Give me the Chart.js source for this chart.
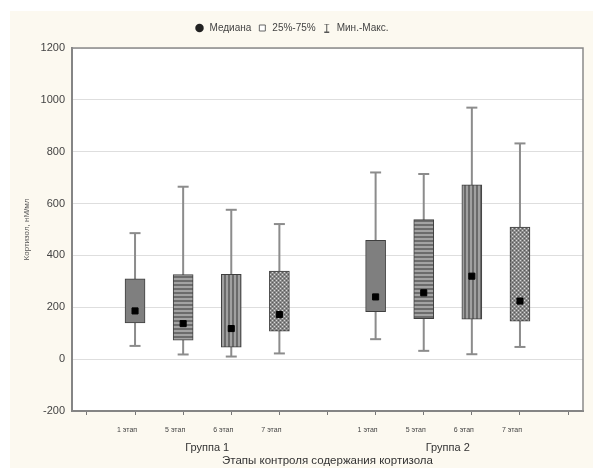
<!DOCTYPE html>
<html>
<head>
<meta charset="utf-8">
<script src="https://cdn.jsdelivr.net/npm/chart.js@4.4.1/dist/chart.umd.min.js"></script>
<style>
html, body { margin: 0; padding: 0; background: #fff; }
#wrap { position: relative; width: 593px; height: 468px; overflow: hidden; }
#bg { position: absolute; left: 10px; top: 11px; right: 0; bottom: 0; background: #fcf9f0; }
#chart { position: absolute; left: 0; top: 0; }
</style>
</head>
<body>
<div id="wrap">
  <div id="bg"></div>
  <canvas id="chart" width="593" height="468"></canvas>
</div>
<script>
// положения на оси X: 0..10, пустые места — разделители групп
const stageLabels = ['', '1 этап', '5 этап', '6 этап', '7 этап', '', '1 этап', '5 этап', '6 этап', '7 этап', ''];
const boxPositions = [1, 2, 3, 4, 6, 7, 8, 9];
const minValues    = [51, 18, 10, 22, 77, 32, 19, 47];
const q1Values     = [140, 73, 46, 108, 183, 156, 154, 146];
const medianValues = [186, 137, 118, 172, 240, 256, 320, 224];
const q3Values     = [310, 326, 327, 340, 458, 538, 672, 509];
const maxValues    = [486, 665, 576, 521, 720, 714, 970, 832];
const groupLabels = ['Группа 1', 'Группа 2'];
const groupPositions = [2.5, 7.5];
const fillKinds = ['solid', 'hstripe', 'vstripe', 'dots', 'solid', 'hstripe', 'vstripe', 'dots'];

const FONT = '"Liberation Sans", Arial, sans-serif';

function makePattern(kind) {
    if (kind === 'solid') return '#7f7f7f';
    const c = document.createElement('canvas');
    c.width = 4; c.height = 4;
    const g = c.getContext('2d');
    if (kind === 'hstripe') {
        g.fillStyle = '#a3a3a3'; g.fillRect(0, 0, 4, 4);
        g.fillStyle = '#6c6c6c'; g.fillRect(0, 0, 4, 2);
    } else if (kind === 'vstripe') {
        g.fillStyle = '#a0a0a0'; g.fillRect(0, 0, 4, 4);
        g.fillStyle = '#6a6a6a'; g.fillRect(0, 0, 2, 4);
    } else {
        g.fillStyle = '#8a8a8a'; g.fillRect(0, 0, 4, 4);
        g.fillStyle = '#d8d8d8'; g.fillRect(0, 0, 1, 1); g.fillRect(2, 2, 1, 1);
        g.fillStyle = '#5a5a5a'; g.fillRect(2, 0, 1, 1); g.fillRect(0, 2, 1, 1);
    }
    return g.createPattern(c, 'repeat');
}

function whiskerIcon() {
    const c = document.createElement('canvas');
    c.width = 7; c.height = 9;
    const g = c.getContext('2d');
    g.strokeStyle = '#555';
    g.lineWidth = 1;
    g.beginPath();
    g.moveTo(1, 0.5); g.lineTo(6, 0.5);
    g.moveTo(3.5, 0.5); g.lineTo(3.5, 8.5);
    g.moveTo(1, 8.5); g.lineTo(6, 8.5);
    g.stroke();
    return c;
}

const whiskerData = [];
boxPositions.forEach((x, i) => {
    whiskerData.push({ x: x, y: minValues[i] }, { x: x, y: maxValues[i] }, { x: x, y: null });
});
const capData = boxPositions.flatMap((x, i) => [{ x: x, y: minValues[i] }, { x: x, y: maxValues[i] }]);
const boxData = boxPositions.map((x, i) => ({ x: x, y: [q1Values[i], q3Values[i]] }));
const medianData = boxPositions.map((x, i) => ({ x: x, y: medianValues[i] }));

const plotBg = {
    id: 'plotBg',
    beforeDraw(chart) {
        const { ctx, chartArea: a } = chart;
        ctx.save();
        ctx.fillStyle = '#ffffff';
        ctx.fillRect(a.left, a.top, a.right - a.left, a.bottom - a.top);
        ctx.restore();
    },
    beforeDatasetsDraw(chart) {
        const { ctx, chartArea: a } = chart;
        ctx.save();
        ctx.strokeStyle = '#8a8a8a';
        ctx.lineWidth = 1.5;
        ctx.beginPath();
        ctx.moveTo(a.left, a.top); ctx.lineTo(a.right, a.top); ctx.lineTo(a.right, a.bottom);
        ctx.stroke();
        ctx.restore();
    }
};

const legendMargin = {
    id: 'legendMargin',
    beforeInit(chart) {
        const fit = chart.legend.fit;
        chart.legend.fit = function () {
            fit.bind(chart.legend)();
            this.height += 5;
        };
    }
};

new Chart(document.getElementById('chart'), {
    type: 'bar',
    data: {
        datasets: [
            {
                type: 'line',
                data: whiskerData,
                borderColor: '#8c8c8c',
                borderWidth: 2,
                pointRadius: 0,
                spanGaps: false,
                order: 4
            },
            {
                type: 'bar',
                data: boxData,
                backgroundColor: fillKinds.map(makePattern),
                borderColor: '#3f3f3f',
                borderWidth: 1,
                borderSkipped: false,
                barThickness: 20,
                grouped: false,
                order: 3
            },
            {
                type: 'line',
                data: capData,
                showLine: false,
                pointStyle: 'line',
                pointRadius: 5.5,
                pointHoverRadius: 5.5,
                borderColor: '#8c8c8c',
                borderWidth: 2,
                order: 2
            },
            {
                type: 'line',
                data: medianData,
                showLine: false,
                pointStyle: 'rect',
                pointRadius: 4.3,
                pointHoverRadius: 4.3,
                backgroundColor: '#000',
                borderColor: '#000',
                borderWidth: 1,
                order: 1
            }
        ]
    },
    options: {
        responsive: false,
        animation: false,
        layout: { padding: { top: 17, right: 10, left: 0, bottom: 0 } },
        plugins: {
            tooltip: { enabled: false },
            legend: {
                display: true,
                position: 'top',
                onClick: null,
                labels: {
                    usePointStyle: true,
                    boxHeight: 6,
                    padding: 6,
                    color: '#444',
                    font: { family: FONT, size: 10 },
                    generateLabels: () => [
                        { text: 'Медиана', pointStyle: 'circle', fillStyle: '#222', strokeStyle: '#222', lineWidth: 0, fontColor: '#444' },
                        { text: '25%-75%', pointStyle: 'rect', fillStyle: '#fff', strokeStyle: '#666', lineWidth: 1, fontColor: '#444' },
                        { text: 'Мин.-Макс.', pointStyle: whiskerIcon(), fillStyle: '#fff', strokeStyle: '#555', lineWidth: 1, fontColor: '#444' }
                    ]
                }
            }
        },
        scales: {
            x: {
                type: 'linear',
                position: 'bottom',
                weight: 0,
                min: -0.31,
                max: 10.31,
                offset: false,
                afterBuildTicks: (s) => { s.ticks = stageLabels.map((_, i) => ({ value: i })); },
                afterFit: (s) => { s.height = 26; },
                grid: { offset: false, drawOnChartArea: false, drawTicks: true, tickLength: 4, color: '#777', tickWidth: 1 },
                border: { color: '#858585', width: 2 },
                ticks: {
                    autoSkip: false,
                    maxRotation: 0,
                    padding: 11,
                    labelOffset: -8,
                    color: '#444',
                    font: { family: FONT, size: 7 },
                    callback: (v) => stageLabels[Math.round(v)] || ''
                }
            },
            x2: {
                type: 'linear',
                position: 'bottom',
                weight: 1,
                min: -0.31,
                max: 10.31,
                offset: false,
                afterBuildTicks: (s) => { s.ticks = groupPositions.map(v => ({ value: v })); },
                afterFit: (s) => { s.height = 31; },
                grid: { display: false, drawTicks: false, offset: false },
                border: { display: false },
                ticks: {
                    autoSkip: false,
                    maxRotation: 0,
                    padding: 4,
                    color: '#333',
                    font: { family: FONT, size: 11 },
                    callback: (v, i) => groupLabels[i]
                },
                title: {
                    display: true,
                    text: 'Этапы контроля содержания кортизола',
                    color: '#333',
                    font: { family: FONT, size: 11.5 },
                    padding: { top: 0, bottom: 0 }
                }
            },
            y: {
                type: 'linear',
                min: -200,
                max: 1200,
                afterFit: (s) => { s.width = 72; },
                grid: { color: '#dedede', lineWidth: 1, drawTicks: false },
                border: { color: '#858585', width: 2 },
                ticks: {
                    stepSize: 200,
                    padding: 7,
                    color: '#444',
                    font: { family: FONT, size: 11 },
                    callback: (v) => String(v)
                },
                title: {
                    display: true,
                    text: 'Кортизол, нМ/мл',
                    color: '#555',
                    font: { family: FONT, size: 8 },
                    padding: { top: 22, bottom: 0 }
                }
            }
        }
    },
    plugins: [plotBg, legendMargin]
});
</script>
</body>
</html>
